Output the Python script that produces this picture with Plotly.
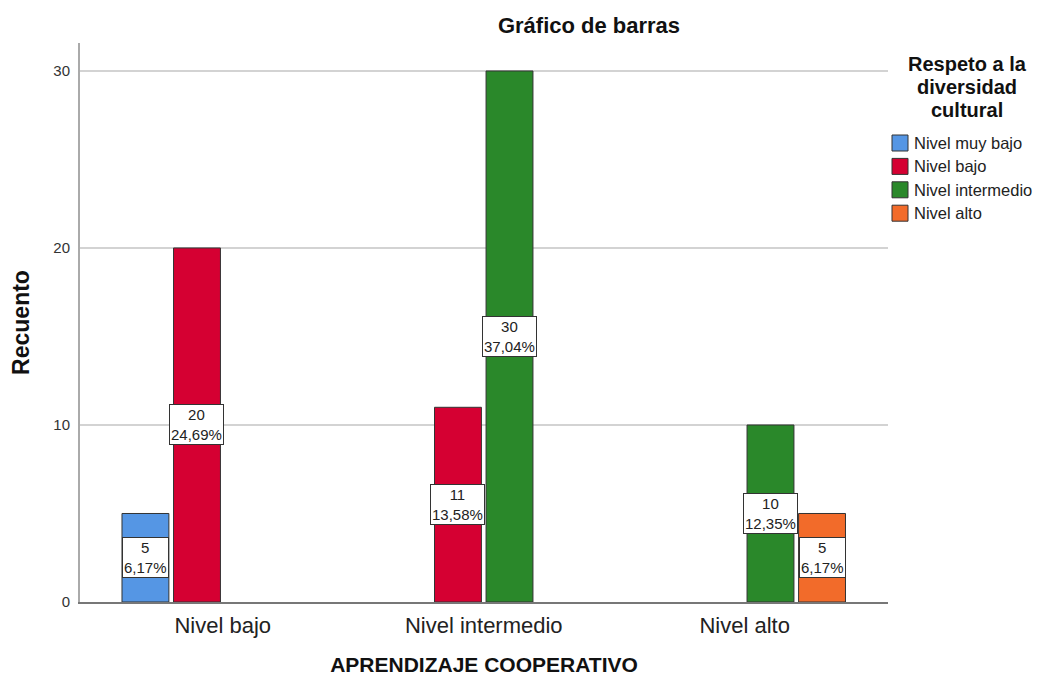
import plotly.graph_objects as go

kategorien = ["Nivel bajo", "Nivel intermedio", "Nivel alto"]
reihen = ["Nivel muy bajo", "Nivel bajo", "Nivel intermedio", "Nivel alto"]
muy_bajo = [5, None, None]
bajo = [20, 11, None]
intermedio = [None, 30, 10]
alto = [None, None, 5]
werte = [muy_bajo, bajo, intermedio, alto]
farben = ["#5596E4", "#D50032", "#2A882A", "#F26B2A"]
legenden_titel = ["Respeto a la", "diversidad", "cultural"]

SCHRIFT = "Liberation Sans, Arial, sans-serif"
BARGAP = 0.21

# zeichenflaeche in pixeln (seite hat 8px rand im browser)
BREITE, HOEHE = 1045, 679
LINKS, RECHTS, OBEN, UNTEN = 72, 880, 35, 594

def papier_x(px):
    return (px - LINKS) / (RECHTS - LINKS)

def papier_y(py):
    return (UNTEN - py) / (UNTEN - OBEN)

gesamt = sum(v for reihe in werte for v in reihe if v is not None)

fig = go.Figure()
for name, reihe, farbe in zip(reihen, werte, farben):
    fig.add_trace(go.Bar(
        x=kategorien, y=reihe, name=name,
        marker=dict(color=farbe, line=dict(color="#333333", width=1)),
        hoverinfo="skip", showlegend=False
    ))

# beschriftungen in der mitte jedes balkens
n = len(reihen)
for j, reihe in enumerate(werte):
    versatz = (-0.5 + (j + 0.5) / n) * (1 - BARGAP)
    for i, v in enumerate(reihe):
        if v is None:
            continue
        prozent = f"{100 * v / gesamt:.2f}".replace(".", ",")
        fig.add_annotation(
            x=i + versatz, y=v / 2, xref="x", yref="y",
            text=f"{v}<br>{prozent}%", showarrow=False,
            font=dict(family=SCHRIFT, size=15, color="#222222"),
            bgcolor="white", bordercolor="#333333", borderwidth=1, borderpad=1
        )

# legende von hand, damit abstaende wie im original sind
for k, zeile in enumerate(legenden_titel):
    fig.add_annotation(
        x=papier_x(959), y=papier_y(56 + 23 * k), xref="paper", yref="paper",
        text=f"<b>{zeile}</b>", showarrow=False, xanchor="center", yanchor="middle",
        font=dict(family=SCHRIFT, size=20, color="#111111")
    )
for k, (name, farbe) in enumerate(zip(reihen, farben)):
    mitte = 135 + 23.4 * k
    fig.add_shape(
        type="rect", xref="paper", yref="paper",
        x0=papier_x(884), x1=papier_x(900),
        y0=papier_y(mitte - 8), y1=papier_y(mitte + 8),
        fillcolor=farbe, line=dict(color="#333333", width=1)
    )
    fig.add_annotation(
        x=papier_x(904), y=papier_y(mitte), xref="paper", yref="paper",
        text=name, showarrow=False, xanchor="left", yanchor="middle",
        font=dict(family=SCHRIFT, size=16.5, color="#222222")
    )

fig.update_layout(
    width=BREITE, height=HOEHE,
    margin=dict(l=LINKS, r=BREITE - RECHTS, t=OBEN, b=HOEHE - UNTEN),
    plot_bgcolor="white", paper_bgcolor="white",
    barmode="group", bargap=BARGAP, bargroupgap=0.09,
    showlegend=False,
    font=dict(family=SCHRIFT, color="#222222"),
    title=dict(text="<b>Gráfico de barras</b>", x=581 / BREITE, xanchor="center",
               y=1 - 17 / HOEHE, yanchor="middle",
               font=dict(size=22, color="#111111")),
    xaxis=dict(
        range=[-0.547, 2.549], showgrid=False, showline=True,
        linecolor="#777777", linewidth=2, ticks="", ticklabelstandoff=3,
        tickfont=dict(size=22, color="#222222"), automargin=False,
        title=dict(text="<b>APRENDIZAJE COOPERATIVO</b>", standoff=20,
                   font=dict(size=21, color="#111111"))
    ),
    yaxis=dict(
        range=[0, 31.58], tickvals=[0, 10, 20, 30], showgrid=True,
        gridcolor="#D3D3D3", gridwidth=2, zeroline=False,
        showline=True, linecolor="#AAAAAA", linewidth=2, ticks="",
        ticklabelstandoff=5, automargin=False,
        tickfont=dict(size=15, color="#333333"),
        title=dict(text="<b>Recuento</b>", standoff=18,
                   font=dict(size=23, color="#111111"))
    ),
)

fig.write_html("out.html")
